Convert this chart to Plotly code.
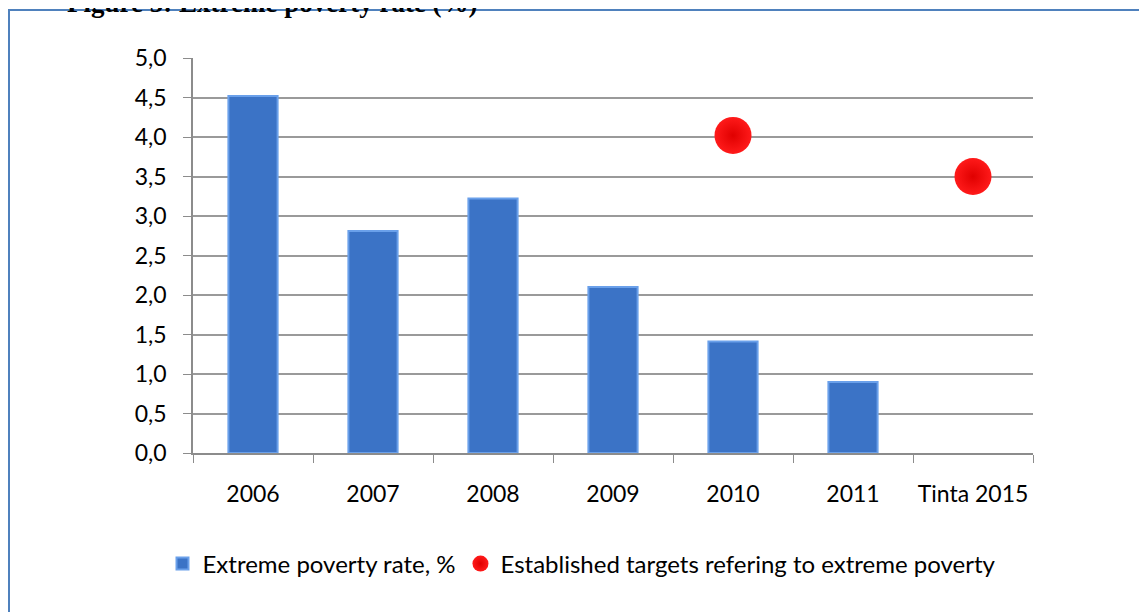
import plotly.graph_objects as go

categories = ["2006", "2007", "2008", "2009", "2010", "2011", "Tinta 2015"]
bar_x = ["2006", "2007", "2008", "2009", "2010", "2011"]
poverty_rate = [4.52, 2.81, 3.22, 2.10, 1.41, 0.90]
target_x = ["2010", "Tinta 2015"]
target_values = [4.02, 3.50]
y_ticks = [0.0, 0.5, 1.0, 1.5, 2.0, 2.5, 3.0, 3.5, 4.0, 4.5, 5.0]

OFF = 8  # page body margin
W, H = 1147, 612
L, R, T, B = 193 - OFF, 122, 58 - OFF, 612 + OFF - 453
pw, ph = W - L - R, H - T - B

def px(x):
    return (x - OFF - L) / pw

def py(y):
    return (H - B - (y - OFF)) / ph

fig = go.Figure()
fig.add_trace(go.Bar(
    x=bar_x, y=poverty_rate, name="Extreme poverty rate, %",
    marker=dict(color="#3b73c6", line=dict(color="#6aa0ea", width=2)),
))
fig.add_trace(go.Scatter(
    x=target_x, y=target_values, mode="markers",
    name="Established targets refering to extreme poverty",
    marker=dict(size=37, color="#ff1a1a", line=dict(width=0),
                gradient=dict(type="radial", color="#e00000")),
))

fig.update_layout(
    width=W, height=H,
    margin=dict(l=L, r=R, t=T, b=B),
    paper_bgcolor="white", plot_bgcolor="white",
    separators=",.",
    bargap=0.59,
    font=dict(family="Lato", size=23, color="#000000"),
    showlegend=True,
    legend=dict(orientation="h", x=px(582), y=py(564), xanchor="center", yanchor="middle",
                font=dict(size=24, family="Lato"), itemwidth=30, tracegroupgap=0),
    xaxis=dict(type="category", categoryorder="array", categoryarray=categories,
               range=[-0.5, 6.5], showline=True, linecolor="#8c8c8c", linewidth=1.5,
               ticks="outside", tickson="boundaries", ticklen=8, tickcolor="#8c8c8c",
               showgrid=False, tickfont=dict(size=23), ticklabelstandoff=20),
    yaxis=dict(range=[0, 5], tickvals=y_ticks, tickformat=".1f",
               showline=True, linecolor="#8c8c8c", linewidth=1.5,
               ticks="outside", ticklen=8, tickcolor="#8c8c8c",
               showgrid=True, gridcolor="#9a9a9a", gridwidth=1.5,
               zeroline=False, tickfont=dict(size=23), ticklabelstandoff=12),
    shapes=[dict(type="rect", xref="paper", yref="paper",
                 x0=px(9), x1=px(1170), y0=py(640), y1=py(10),
                 line=dict(color="#4f81bd", width=2), layer="below")],
    annotations=[dict(text="<b>Figure 5: Extreme poverty rate (%)</b>", xref="paper", yref="paper",
                      x=px(65), y=py(3), xanchor="left", yanchor="middle", showarrow=False,
                      font=dict(family="Liberation Serif", size=27, color="#000000"))],
)

fig.write_html("out.html")
